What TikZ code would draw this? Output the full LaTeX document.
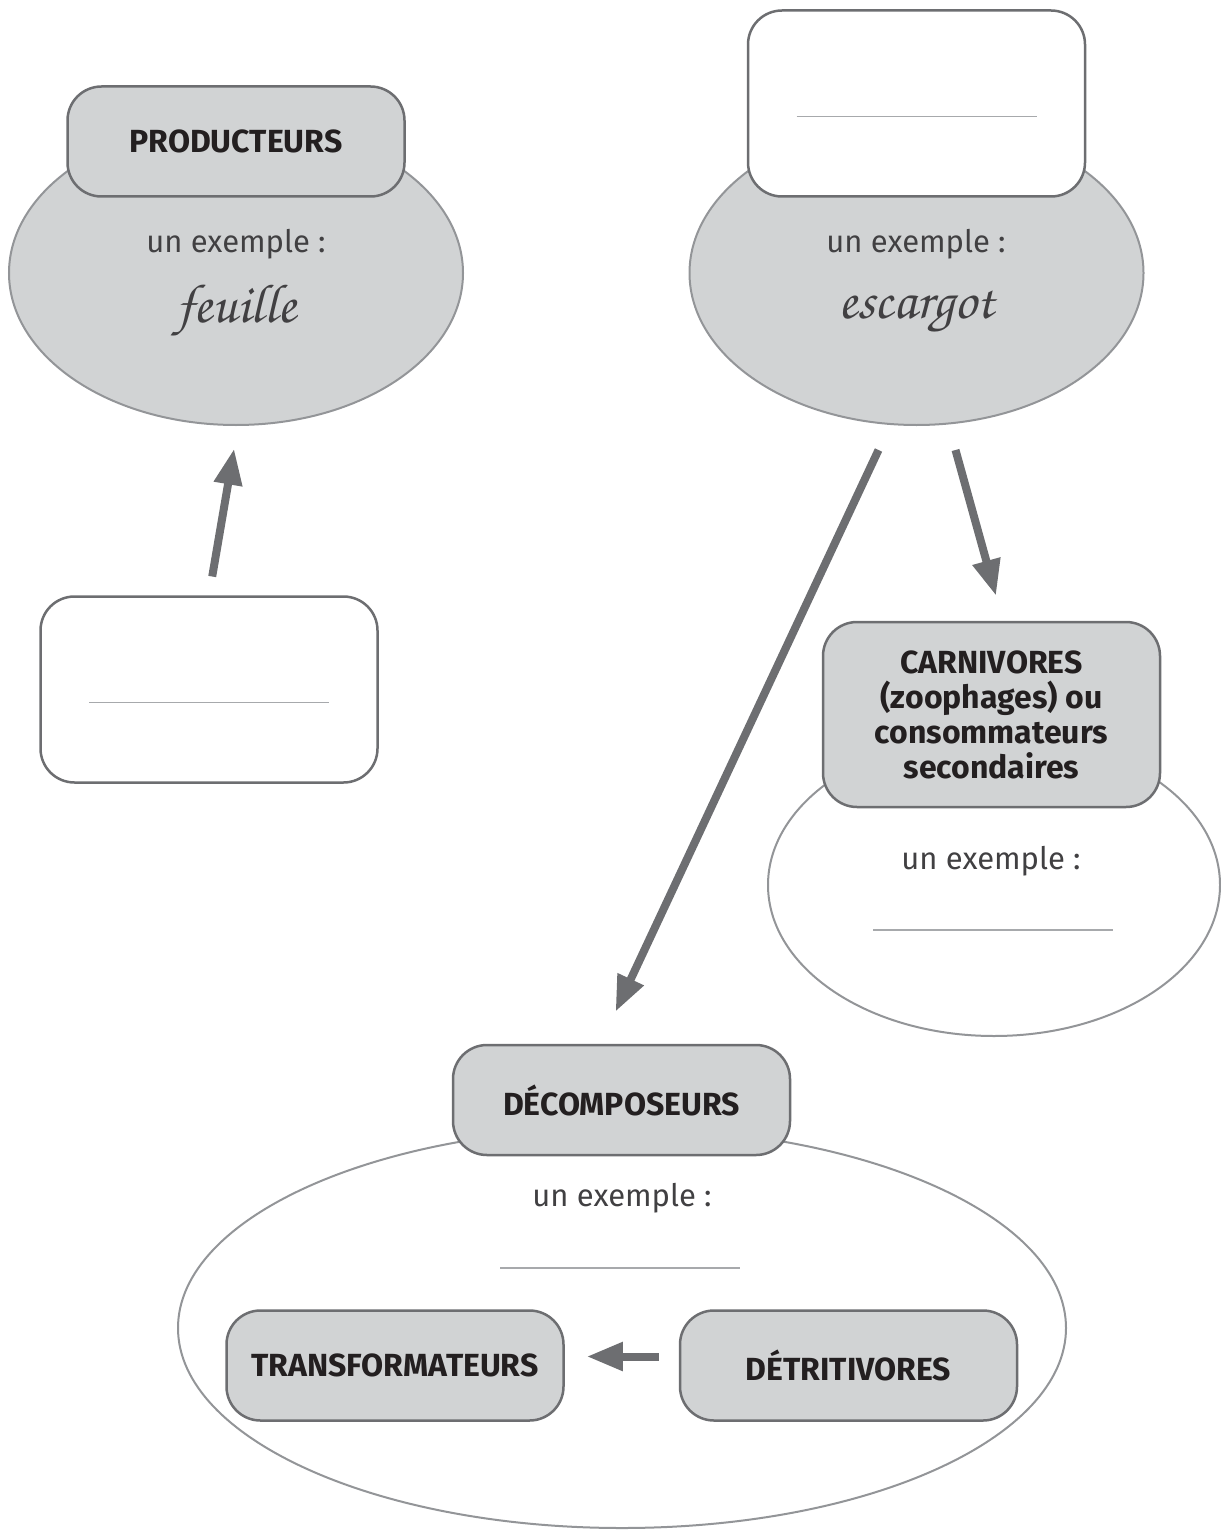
\documentclass[tikz,border=0pt]{standalone}
\usepackage{fontspec}
\setmainfont{Fira Sans}
\newfontfamily\cursive{TeX Gyre Chorus}
\usetikzlibrary{shapes.geometric,arrows.meta}

\definecolor{boxgrey}{HTML}{D1D3D4}
\definecolor{edgegrey}{HTML}{6D6E71}
\definecolor{ellgrey}{HTML}{939598}
\definecolor{inkgrey}{HTML}{231F20}
\definecolor{textgrey}{HTML}{414042}
\definecolor{rulegrey}{HTML}{A7A9AC}

\begin{document}
\begin{tikzpicture}[x=1pt,y=-1pt,
  group/.style={ellipse,draw=ellgrey,line width=2pt,fill=boxgrey,inner sep=0pt},
  emptygroup/.style={group,fill=white},
  title/.style={rectangle,rounded corners=34pt,draw=edgegrey,line width=2.5pt,fill=boxgrey,
    minimum width=337pt,minimum height=110pt,align=center,
    font=\bfseries\fontsize{32}{35}\selectfont,text=inkgrey},
  blank/.style={title,fill=white,minimum height=186pt},
  example/.style={font=\fontsize{31}{35}\selectfont,text=textgrey},
  answer/.style={font=\cursive\fontsize{55}{60}\selectfont,text=textgrey},
  writeline/.style={draw=rulegrey,line width=1.2pt},
  flow/.style={draw=edgegrey,line width=8pt,-{Triangle[length=36pt,width=27pt]}}]

\useasboundingbox (0,0) rectangle (1220,1530);

% producteurs
\node[group,minimum width=454pt,minimum height=304pt] (prodell) at (236,273) {};
\node[title] (prod) at (236,141.5) {PRODUCTEURS};
\node[example] (prodex) at (236,244) {un exemple :};
\node[answer] (prodans) at (236,311) {feuille};

% case vide sous les producteurs
\node[blank] (prodblank) at (209,689.5) {};
\draw[writeline] ([shift={(-120,13)}]prodblank.center) -- ++(240,0);

% consommateurs primaires (case vide)
\node[group,minimum width=454pt,minimum height=304pt] (escell) at (916.5,273) {};
\node[blank] (escbox) at (916.5,103.5) {};
\draw[writeline] ([shift={(-120,13)}]escbox.center) -- ++(240,0);
\node[example] (escex) at (916,244) {un exemple :};
\node[answer] (escans) at (916,311) {escargot};

% carnivores
\node[emptygroup,minimum width=452pt,minimum height=302pt] (carnell) at (994,885) {};
\node[title,minimum height=185pt] (carn) at (991.5,714.5) {CARNIVORES\\(zoophages) ou\\consommateurs\\secondaires};
\node[example] (carnex) at (991,861) {un exemple :};
\draw[writeline] ([shift={(-118,69)}]carnex.center) -- ++(240,0);

% décomposeurs
\node[emptygroup,minimum width=888pt,minimum height=400pt] (decell) at (622,1328) {};
\node[title] (decomp) at (621.5,1100) {DÉCOMPOSEURS};
\node[example] (decex) at (622,1198) {un exemple :};
\draw[writeline] ([shift={(-122,70)}]decex.center) -- ++(240,0);
\node[title] (transfo) at (395,1365.5) {TRANSFORMATEURS};
\node[title] (detri) at (848.5,1365.5) {DÉTRITIVORES};

% flèches
\draw[flow,shorten <=19pt,shorten >=23pt] (prodblank.north) -- ([xshift=2pt]prodell.south);
\draw[flow] ([shift={(-38,24)}]escell.south) -- ([shift={(-6,-32)}]decomp.north);
\draw[flow] ([shift={(39,24)}]escell.south) -- ([shift={(4.5,-25)}]carn.north);
\draw[flow] ([shift={(-20,-9)}]detri.west) -- ([shift={(22,-9)}]transfo.east);

\end{tikzpicture}
\end{document}
